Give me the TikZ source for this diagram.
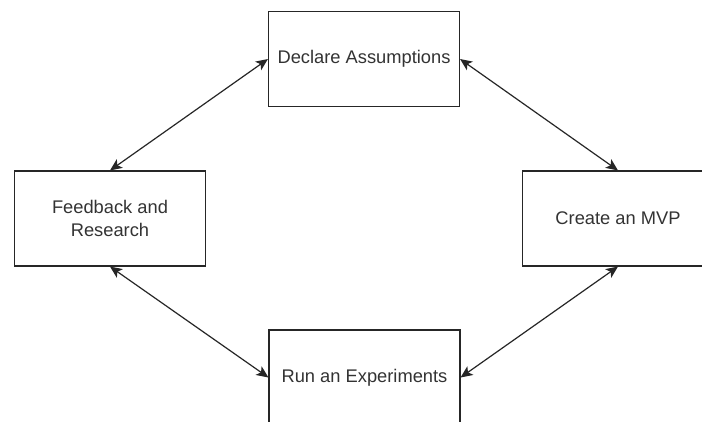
\documentclass[tikz,border=0pt]{standalone}
\usepackage{fontspec}
\setmainfont{Liberation Sans}
\usetikzlibrary{arrows.meta}
\tikzset{
  stage/.style={draw=black!85, line width=1.1pt, fill=white, minimum width=191pt,
    minimum height=95pt, inner sep=2pt, align=center, text=black!80,
    font=\fontsize{18.3}{23}\selectfont},
  tip/.tip={Stealth[length=12pt,width=10.5pt,inset=3pt]},
  link/.style={draw=black!85, line width=1.2pt, tip-tip}
}
\begin{document}
\begin{tikzpicture}[x=1pt,y=-1pt]
  \useasboundingbox (0,0) rectangle (702,421);
  \clip (0,0) rectangle (702,421);
  \fill[white] (0,0) rectangle (702,421);
  % the four stages of the loop
  \node[stage] (assume)   at (364,59)    {Declare Assumptions};
  \node[stage] (feedback) at (110,218.5) {Feedback and\\Research};
  \node[stage] (mvp)      at (618,218.5) {Create an MVP};
  \node[stage] (run)      at (364.5,377.5) {Run an Experiments};
  % two-way links between neighbouring stages
  \draw[link] (feedback.north) -- (assume.west);
  \draw[link] (assume.east) -- (mvp.north);
  \draw[link] (mvp.south) -- (run.east);
  \draw[link] (run.west) -- (feedback.south);
\end{tikzpicture}
\end{document}
